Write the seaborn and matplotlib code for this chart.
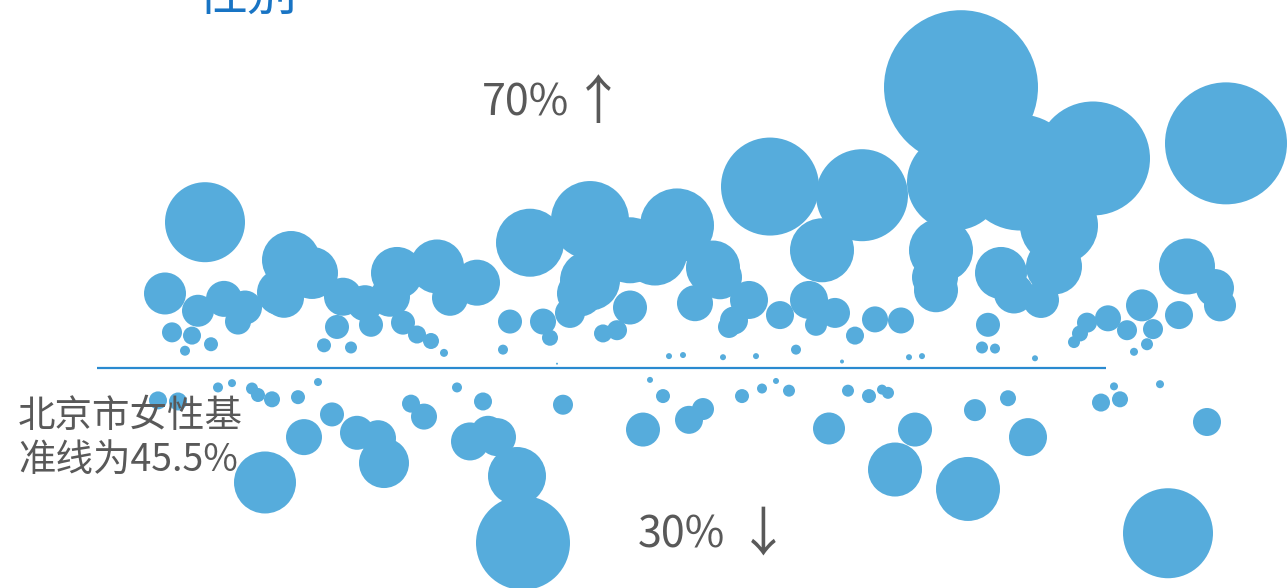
import pandas as pd
import matplotlib
matplotlib.use("Agg")
import matplotlib.pyplot as plt
import seaborn as sns

# ------------------------- DATA ------------------------- #
# x: 排序位置, female_pct: 女性占比(%), count: 样本量 (bubble area)
x_pos = [
    205, 165, 198, 224, 245, 238, 172, 192, 211, 185,
    291, 312, 280, 284, 343, 365, 397, 390, 437, 450,
    477, 337, 371, 403, 417, 431, 324, 351, 444, 503,
    510, 530, 590, 630, 655, 677, 713, 720, 590, 580,
    570, 630, 543, 550, 603, 617, 557, 695, 749, 734,
    729, 669, 683, 723, 756, 796, 770, 862, 961, 1093,
    1226, 955, 1020, 1059, 822, 941, 935, 936, 1001, 1054,
    1014, 1041, 1187, 1215, 1220, 1142, 1179, 1153, 1127, 1108,
    1087, 1080, 1074, 1147, 1134, 780, 809, 816, 835, 875,
    901, 855, 988, 982, 995, 842, 909, 922, 1035,
    # below baseline
    158, 178, 218, 232, 252, 258, 272, 298, 318, 265,
    304, 332, 357, 378, 384, 411, 424, 457, 483, 470,
    488, 497, 517, 523, 563, 650, 663, 643, 689, 703,
    742, 762, 776, 789, 829, 848, 869, 882, 888, 915,
    895, 975, 1008, 1028, 968, 1101, 1114, 1120, 1160, 1207,
    1168,
]
female_pct = [
    59.0, 52.4, 50.8, 51.9, 51.1, 49.8, 48.8, 48.5, 47.7, 47.1,
    55.5, 54.3, 52.5, 52.0, 52.1, 51.5, 54.3, 52.1, 54.9, 52.0,
    53.4, 49.3, 49.5, 49.7, 48.6, 48.0, 47.6, 47.4, 46.9, 47.2,
    49.8, 57.1, 59.2, 56.4, 56.1, 58.7, 54.8, 53.9, 53.6, 52.4,
    50.6, 51.1, 49.8, 48.3, 48.7, 49.0, 45.9, 51.5, 51.8, 49.9,
    49.3, 46.6, 46.7, 46.5, 46.6, 47.2, 62.3, 61.5, 71.5, 64.9,
    66.3, 62.7, 63.6, 58.7, 56.4, 56.4, 53.9, 52.7, 54.3, 54.9,
    52.4, 51.8, 54.9, 52.9, 51.3, 51.3, 50.4, 49.1, 49.0, 50.1,
    49.7, 48.7, 47.9, 47.7, 47.0, 50.4, 51.8, 49.5, 50.6, 50.0,
    49.9, 48.5, 49.5, 47.4, 47.3, 46.1, 46.5, 46.6, 46.4,
    42.5, 42.4, 43.7, 44.1, 43.6, 43.0, 42.6, 42.8, 44.2, 34.9,
    39.1, 41.2, 39.5, 39.0, 36.7, 42.2, 41.0, 43.7, 42.4, 38.7,
    39.5, 39.1, 35.5, 29.3, 42.1, 44.4, 42.9, 39.8, 40.7, 41.7,
    42.9, 43.6, 44.3, 43.4, 39.9, 43.4, 42.9, 43.5, 43.2, 39.8,
    36.1, 41.6, 42.7, 39.1, 34.3, 42.3, 43.8, 42.6, 44.0, 40.5,
    30.2,
]
count = [
    1600, 441, 256, 324, 289, 169, 100, 81, 49, 25,
    841, 676, 529, 400, 361, 324, 676, 400, 729, 324,
    529, 144, 144, 144, 81, 64, 49, 36, 16, 25,
    144, 1156, 1521, 1089, 1024, 1369, 729, 484, 900, 529,
    225, 289, 169, 64, 81, 100, 1, 324, 361, 196,
    121, 9, 9, 9, 9, 25, 2401, 2116, 5929, 3249,
    3721, 2304, 3364, 1521, 1024, 1024, 529, 484, 676, 784,
    400, 324, 784, 361, 256, 256, 196, 100, 100, 169,
    100, 64, 36, 36, 16, 196, 361, 121, 225, 169,
    169, 81, 144, 36, 25, 4, 9, 9, 9,
    81, 81, 25, 16, 36, 49, 64, 49, 16, 961,
    324, 144, 289, 324, 625, 81, 169, 25, 81, 361,
    289, 361, 841, 2209, 100, 9, 49, 289, 196, 121,
    49, 25, 9, 36, 256, 36, 49, 25, 36, 289,
    729, 121, 64, 361, 1024, 81, 16, 64, 16, 196,
    2025,
]

BASELINE = 45.5
df = pd.DataFrame({"x": x_pos, "pct": female_pct, "n": count})

# ------------------------- PLOT ------------------------- #
sns.set_style("white")
plt.rcParams["font.family"] = ["Noto Sans CJK SC", "DejaVu Sans"]

fig = plt.figure(figsize=(12.87, 5.88), dpi=100)
ax = fig.add_axes([0, 0, 1, 1])

# area scale: 1 count unit -> (1.44 pt)^2
max_n = max(count)
sns.scatterplot(
    data=df, x="x", y="pct", size="n",
    sizes=(0, max_n * 1.44 ** 2), size_norm=(0, max_n),
    color="#56acdc", linewidth=0, alpha=1, legend=False, ax=ax,
)

ax.hlines(BASELINE, 97, 1106, color="#2a8ad0", lw=1.6, zorder=3)

ax.set_xlim(0, 1287)
ax.set_ylim(BASELINE - 220 / 10.8, BASELINE + 368 / 10.8)
ax.axis("off")

grey = "#595959"
ax.text(526, 70, "70%", ha="center", va="center", fontsize=31, color=grey)
ax.text(598, 70, "↑", ha="center", va="center", fontsize=38, color=grey)
ax.text(681, 30, "30%", ha="center", va="center", fontsize=31, color=grey)
ax.text(763, 30, "↓", ha="center", va="center", fontsize=38, color=grey)
ax.text(18, 39.0, "北京市女性基\n准线为45.5%", ha="left", va="center",
        fontsize=27, color=grey, linespacing=1.15)
ax.text(198, 77.45, "性别", ha="left", va="bottom", fontsize=36, color="#1874c4")

fig.savefig("out.png", dpi=100)
